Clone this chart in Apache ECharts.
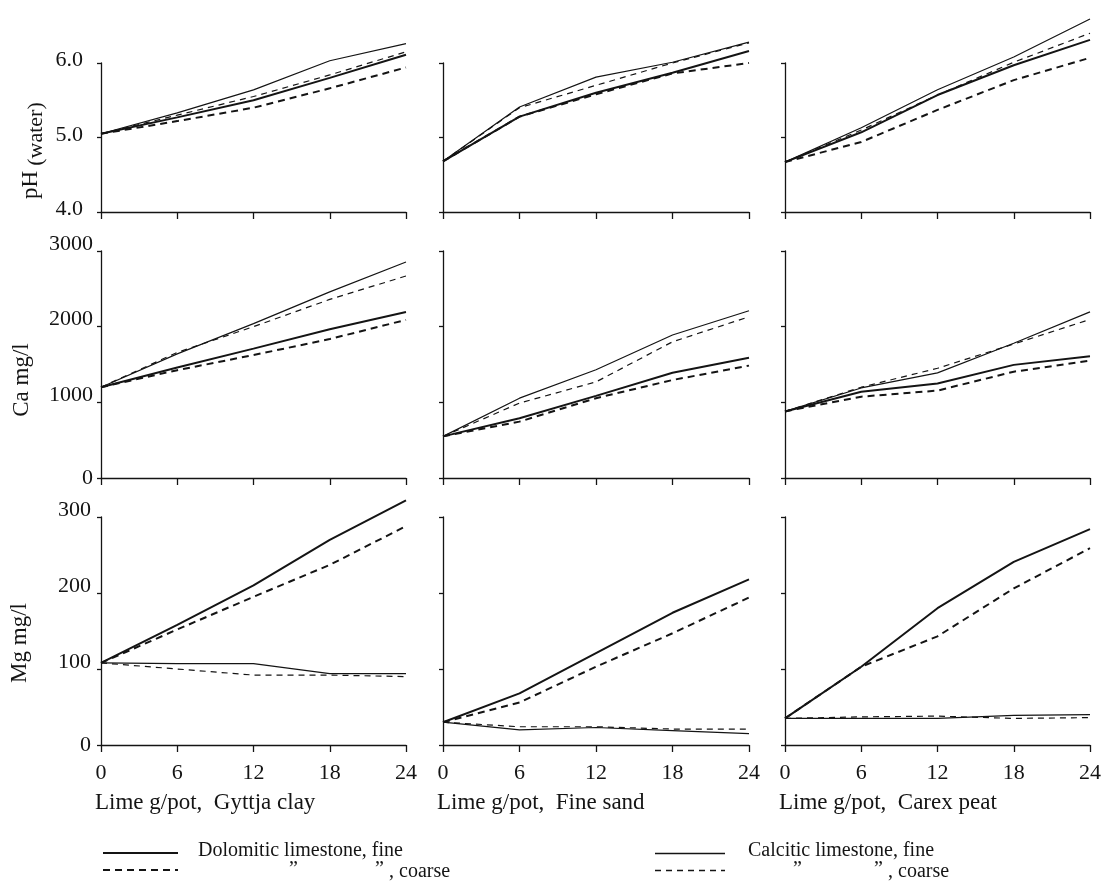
<!DOCTYPE html>
<html>
<head>
<meta charset="utf-8">
<script src="https://cdn.jsdelivr.net/npm/echarts@6/dist/echarts.min.js"></script>
<style>
  html, body { margin: 0; padding: 0; background: #fff; }
  #chart { width: 1109px; height: 884px; }
</style>
</head>
<body>
<div id="chart"></div>
<script>
// Lime applied (g/pot) on the x axis of every panel
const limeDoses = [0, 6, 12, 18, 24];
const soils = ['Gyttja clay', 'Fine sand', 'Carex peat'];

// Tick values for each row of panels
const phTicks = [4, 5, 6];
const caTicks = [0, 1000, 2000, 3000];
const mgTicks = [0, 100, 200, 300];

// pH (water)
const phGyttjaDolFine   = [5.05, 5.27, 5.50, 5.80, 6.11];
const phGyttjaDolCoarse = [5.05, 5.22, 5.40, 5.66, 5.94];
const phGyttjaCalFine   = [5.05, 5.33, 5.64, 6.03, 6.26];
const phGyttjaCalCoarse = [5.05, 5.30, 5.55, 5.84, 6.15];
const phSandDolFine     = [4.68, 5.28, 5.60, 5.87, 6.16];
const phSandDolCoarse   = [4.68, 5.28, 5.58, 5.86, 6.00];
const phSandCalFine     = [4.68, 5.41, 5.81, 6.01, 6.28];
const phSandCalCoarse   = [4.68, 5.40, 5.70, 6.00, 6.27];
const phPeatDolFine     = [4.67, 5.07, 5.57, 5.97, 6.31];
const phPeatDolCoarse   = [4.67, 4.94, 5.37, 5.77, 6.07];
const phPeatCalFine     = [4.67, 5.13, 5.64, 6.08, 6.59];
const phPeatCalCoarse   = [4.67, 5.10, 5.57, 6.01, 6.40];

// Ca mg/l
const caGyttjaDolFine   = [1200, 1460, 1710, 1965, 2195];
const caGyttjaDolCoarse = [1200, 1425, 1625, 1836, 2090];
const caGyttjaCalFine   = [1200, 1640, 2040, 2460, 2855];
const caGyttjaCalCoarse = [1200, 1660, 2000, 2360, 2670];
const caSandDolFine     = [550, 790, 1085, 1390, 1590];
const caSandDolCoarse   = [550, 745, 1055, 1295, 1485];
const caSandCalFine     = [550, 1055, 1430, 1890, 2210];
const caSandCalCoarse   = [550, 990, 1270, 1800, 2130];
const caPeatDolFine     = [880, 1140, 1250, 1495, 1610];
const caPeatDolCoarse   = [880, 1075, 1155, 1405, 1550];
const caPeatCalFine     = [880, 1190, 1390, 1780, 2195];
const caPeatCalCoarse   = [880, 1200, 1450, 1770, 2095];

// Mg mg/l
const mgGyttjaDolFine   = [108, 158, 210, 270, 322];
const mgGyttjaDolCoarse = [108, 152, 195, 237, 288];
const mgGyttjaCalFine   = [108, 107, 107, 94, 94];
const mgGyttjaCalCoarse = [108, 100, 92, 92, 90];
const mgSandDolFine     = [30, 68, 121, 174, 218];
const mgSandDolCoarse   = [30, 56, 103, 147, 194];
const mgSandCalFine     = [30, 20, 23, 19, 15];
const mgSandCalCoarse   = [30, 24, 24, 21, 21];
const mgPeatDolFine     = [35, 103, 180, 241, 284];
const mgPeatDolCoarse   = [35, 103, 143, 206, 259];
const mgPeatCalFine     = [35, 35, 35, 39, 40];
const mgPeatCalCoarse   = [35, 37, 38, 35, 36];

const seriesNames = [
  'Dolomitic limestone, fine', 'Dolomitic limestone, coarse',
  'Calcitic limestone, fine', 'Calcitic limestone, coarse'
];

const ink = '#141414';
const serif = 'Liberation Serif, Times New Roman, serif';

// Dolomitic lines are drawn heavier than calcitic ones
const lineStyles = [
  { width: 2.0, type: 'solid' },
  { width: 2.0, type: [7, 5] },
  { width: 1.2, type: 'solid' },
  { width: 1.2, type: [6, 5] }
];

const colLeft = [101, 443, 785];
const colWidth = [305, 306, 305];
const rowTop = [63, 251, 517];
const rowHeight = [149, 227, 228];

const rows = [
  { ticks: phTicks, margin: 18, lift: 5, panels: [
      [phGyttjaDolFine, phGyttjaDolCoarse, phGyttjaCalFine, phGyttjaCalCoarse],
      [phSandDolFine, phSandDolCoarse, phSandCalFine, phSandCalCoarse],
      [phPeatDolFine, phPeatDolCoarse, phPeatCalFine, phPeatCalCoarse]] },
  { ticks: caTicks, margin: 8, lift: 14, panels: [
      [caGyttjaDolFine, caGyttjaDolCoarse, caGyttjaCalFine, caGyttjaCalCoarse],
      [caSandDolFine, caSandDolCoarse, caSandCalFine, caSandCalCoarse],
      [caPeatDolFine, caPeatDolCoarse, caPeatCalFine, caPeatCalCoarse]] },
  { ticks: mgTicks, margin: 10, lift: 14, panels: [
      [mgGyttjaDolFine, mgGyttjaDolCoarse, mgGyttjaCalFine, mgGyttjaCalCoarse],
      [mgSandDolFine, mgSandDolCoarse, mgSandCalFine, mgSandCalCoarse],
      [mgPeatDolFine, mgPeatDolCoarse, mgPeatCalFine, mgPeatCalCoarse]] }
];

const grid = [], xAxis = [], yAxis = [], series = [];
const axisLineStyle = { color: ink, width: 1.3 };

rows.forEach((row, r) => {
  row.panels.forEach((panel, c) => {
    const idx = grid.length;
    grid.push({
      left: colLeft[c], top: rowTop[r], width: colWidth[c], height: rowHeight[r],
      outerBoundsMode: 'none'
    });
    xAxis.push({
      gridIndex: idx, type: 'value', min: limeDoses[0], max: limeDoses[limeDoses.length - 1],
      interval: limeDoses[1] - limeDoses[0],
      axisLine: { show: true, onZero: false, lineStyle: axisLineStyle },
      axisTick: { show: true, inside: false, length: 7, lineStyle: axisLineStyle },
      axisLabel: { show: r === 2, margin: 17, fontFamily: serif, fontSize: 22, color: ink,
                   showMinLabel: true, showMaxLabel: true },
      splitLine: { show: false }
    });
    const t = row.ticks;
    const lift = row.lift;
    yAxis.push({
      gridIndex: idx, type: 'value', min: t[0], max: t[t.length - 1], interval: t[1] - t[0],
      axisLine: { show: true, onZero: false, lineStyle: axisLineStyle },
      axisTick: { show: true, inside: false, length: 4, lineStyle: axisLineStyle },
      axisLabel: {
        show: c === 0, margin: row.margin, color: ink,
        formatter: v => {
          const txt = (t === phTicks) ? v.toFixed(1) : String(v);
          return (v === 0) ? '{z|' + txt + '}' : '{n|' + txt + '}';
        },
        rich: {
          n: { fontFamily: serif, fontSize: 22, color: ink, padding: [0, 0, lift, 0] },
          z: { fontFamily: serif, fontSize: 22, color: ink }
        }
      },
      splitLine: { show: false }
    });
    panel.forEach((vals, s) => {
      series.push({
        name: seriesNames[s], type: 'line', xAxisIndex: idx, yAxisIndex: idx,
        data: limeDoses.map((x, k) => [x, vals[k]]),
        symbol: 'none', showSymbol: false, clip: false, silent: true,
        lineStyle: { color: ink, width: lineStyles[s].width, type: lineStyles[s].type }
      });
    });
  });
});

// Axis titles and legend key
const graphic = [];
const vtext = (txt, x, y, size) => ({
  type: 'text', x: x, y: y, rotation: Math.PI / 2, silent: true,
  style: { text: txt, fontFamily: serif, fontSize: size, fill: ink, align: 'center', verticalAlign: 'middle' }
});
graphic.push(vtext('pH', 31, 185, 23));
graphic.push(vtext('(water)', 36, 134, 22));
graphic.push(vtext('Ca mg/l', 22, 380, 23));
graphic.push(vtext('Mg mg/l', 20, 643, 23));

soils.forEach((soil, c) => {
  graphic.push({
    type: 'text', x: colLeft[c] - 6, y: 803, silent: true,
    style: { text: 'Lime g/pot,  ' + soil, fontFamily: serif, fontSize: 23, fill: ink,
             align: 'left', verticalAlign: 'middle' }
  });
});

const legendBlocks = [
  { x0: 103, x1: 178, tx: 198, label: 'Dolomitic limestone, fine', d1: 289, d2: 375, cx: 389, w: 2.0, dash: [7, 5] },
  { x0: 655, x1: 725, tx: 748, label: 'Calcitic limestone, fine', d1: 793, d2: 874, cx: 888, w: 1.3, dash: [6, 5] }
];
const ltext = (txt, x, y) => ({
  type: 'text', x: x, y: y, silent: true,
  style: { text: txt, fontFamily: serif, fontSize: 20, fill: ink, align: 'left', verticalAlign: 'middle' }
});
legendBlocks.forEach(b => {
  const off = b.w < 1.5 ? 0.5 : 0;
  graphic.push({ type: 'line', silent: true, shape: { x1: b.x0, y1: 853 + off, x2: b.x1, y2: 853 + off },
                 style: { stroke: ink, lineWidth: b.w } });
  graphic.push({ type: 'line', silent: true, shape: { x1: b.x0, y1: 870 + off, x2: b.x1, y2: 870 + off },
                 style: { stroke: ink, lineWidth: b.w, lineDash: b.dash } });
  graphic.push(ltext(b.label, b.tx, 851));
  graphic.push(ltext('\u201D', b.d1, 870));
  graphic.push(ltext('\u201D', b.d2, 870));
  graphic.push(ltext(', coarse', b.cx, 872));
});

const chart = echarts.init(document.getElementById('chart'), null, { renderer: 'canvas' });
chart.setOption({
  backgroundColor: '#ffffff',
  animation: false,
  grid: grid,
  xAxis: xAxis,
  yAxis: yAxis,
  series: series,
  graphic: graphic
});
</script>
</body>
</html>
